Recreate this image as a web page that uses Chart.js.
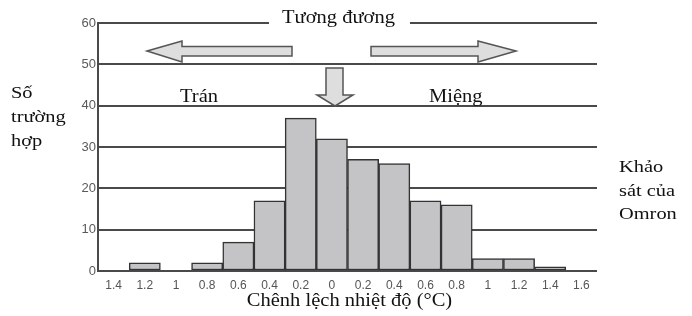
<!DOCTYPE html>
<html>
<head>
<meta charset="utf-8">
<script src="https://cdn.jsdelivr.net/npm/chart.js@4"></script>
<style>
  html, body { margin: 0; padding: 0; background: #fff; }
  #wrap { position: relative; width: 692px; height: 316px; }
</style>
</head>
<body>
<div id="wrap"><canvas id="chart" width="692" height="316"></canvas></div>
<script>
// du lieu
const categories = ['1.4', '1.2', '1', '0.8', '0.6', '0.4', '0.2', '0', '0.2', '0.4', '0.6', '0.8', '1', '1.2', '1.4', '1.6'];
const counts = [0, 2, 0, 2, 7, 17, 37, 32, 27, 26, 17, 16, 3, 3, 1, 0];
const yTicks = [0, 10, 20, 30, 40, 50, 60];
const xTitle = 'Chênh lệch nhiệt độ (°C)';

const serif = "'Liberation Serif', 'Times New Roman', serif";
const sans = "'Liberation Sans', Arial, sans-serif";

function arrow(ctx, pts) {
    ctx.beginPath();
    ctx.moveTo(pts[0][0], pts[0][1]);
    for (let i = 1; i < pts.length; i++) ctx.lineTo(pts[i][0], pts[i][1]);
    ctx.closePath();
    ctx.fillStyle = '#dedede';
    ctx.fill();
    ctx.strokeStyle = '#555';
    ctx.lineWidth = 1.5;
    ctx.stroke();
}

// chu hoi rong ngang nhu anh goc
function wideText(ctx, text, x, y, align) {
    ctx.save();
    ctx.translate(x, y);
    ctx.scale(1.14, 1);
    ctx.textAlign = align || 'left';
    ctx.fillText(text, 0, 0);
    ctx.restore();
}

// chu thich, mui ten
const annotations = {
    id: 'annotations',
    beforeDatasetsDraw(chart) {
        const ctx = chart.ctx;
        // che duong 60 sau chu "Tuong duong"
        ctx.save();
        ctx.fillStyle = '#fff';
        ctx.fillRect(269, 14, 141, 16);
        ctx.restore();
    },
    afterDraw(chart) {
        const ctx = chart.ctx;
        const area = chart.chartArea;
        ctx.save();
        // trai
        arrow(ctx, [[147, 51], [182, 41], [182, 46.5], [292, 46.5], [292, 56], [182, 56], [182, 62]]);
        // phai
        arrow(ctx, [[516, 51], [478, 41], [478, 46.5], [371, 46.5], [371, 56], [478, 56], [478, 62]]);
        // xuong
        arrow(ctx, [[326, 68], [343, 68], [343, 95], [353, 95], [335, 106], [317, 95], [326, 95]]);

        ctx.fillStyle = '#111';
        ctx.font = '18px ' + serif;
        ctx.textBaseline = 'alphabetic';
        wideText(ctx, 'Tương đương', 282, 23);
        wideText(ctx, 'Trán', 180, 102);
        wideText(ctx, 'Miệng', 429, 102);
        wideText(ctx, xTitle, (area.left + area.right) / 2 + 2, 306, 'center');

        ctx.font = '17px ' + serif;
        ctx.save();
        ctx.translate(11, 0);
        ctx.scale(1.2, 1);
        ctx.fillText('Số', 0, 98);
        ctx.fillText('trường', 0, 122);
        ctx.fillText('hợp', 0, 146);
        ctx.restore();

        ctx.save();
        ctx.translate(619, 0);
        ctx.scale(1.2, 1);
        ctx.fillText('Khảo', 0, 172);
        ctx.fillText('sát của', 0, 196);
        ctx.fillText('Omron', 0, 219);
        ctx.restore();
        ctx.restore();
    }
};

const chart = new Chart(document.getElementById('chart'), {
    type: 'bar',
    data: {
        labels: categories,
        datasets: [{
            data: counts,
            backgroundColor: '#c4c4c7',
            borderColor: '#333',
            borderWidth: 1.5,
            borderSkipped: false,
            barPercentage: 1,
            categoryPercentage: 1
        }]
    },
    options: {
        responsive: false,
        animation: false,
        layout: { padding: { left: 0, right: 95, top: 23, bottom: 0 } },
        plugins: {
            legend: { display: false },
            tooltip: { enabled: false }
        },
        scales: {
            x: {
                grid: { display: false, drawTicks: false },
                border: { display: false },
                ticks: { color: '#555', font: { family: sans, size: 12 }, padding: 7, maxRotation: 0, autoSkip: false },
                afterFit(scale) { scale.height = 45; }
            },
            y: {
                min: 0,
                max: 60,
                afterBuildTicks(scale) { scale.ticks = yTicks.map(v => ({ value: v })); },
                ticks: { color: '#5a5a5a', font: { family: sans, size: 13 }, padding: 2 },
                grid: { color: '#4a4a4a', lineWidth: 2, drawTicks: false },
                border: { display: true, color: '#4a4a4a', width: 2 },
                afterFit(scale) { scale.width = 98; }
            }
        }
    },
    plugins: [annotations]
});
</script>
</body>
</html>
